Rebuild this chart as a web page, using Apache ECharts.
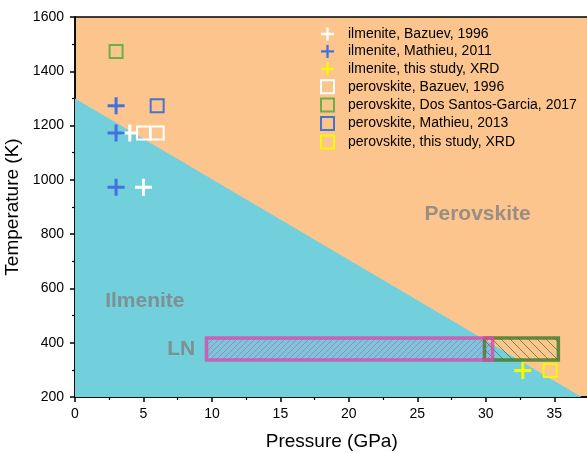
<!DOCTYPE html>
<html><head><meta charset="utf-8">
<script src="https://cdn.jsdelivr.net/npm/echarts@6/dist/echarts.min.js"></script>
<style>html,body{margin:0;padding:0;background:#fff}#c{width:587px;height:453px}</style>
</head><body><div id="c"></div>
<script>
// ---- data ----
const seriesNames = [
  'ilmenite, Bazuev, 1996',
  'ilmenite, Mathieu, 2011',
  'ilmenite, this study, XRD',
  'perovskite, Bazuev, 1996',
  'perovskite, Dos Santos-Garcia, 2017',
  'perovskite, Mathieu, 2013',
  'perovskite, this study, XRD'
];
const ilmBazuev = [[4, 1173], [5, 973]];
const ilmMathieu = [[3, 1273], [3, 1173], [3, 973]];
const ilmThisStudy = [[32.7, 298]];
const perBazuev = [[5, 1173], [6, 1173]];
const perDosSantos = [[3, 1473]];
const perMathieu = [[6, 1273]];
const perThisStudy = [[34.7, 298]];
// phase boundary (ilmenite region below the line)
const ilmeniteRegion = [[0, 200], [0, 1300], [37, 200]];
// hatched boxes
const lnBoxP = [9.6, 30.5], lnBoxT = [336, 417];
const perBoxP = [29.9, 35.3], perBoxT = [336, 417];
// region labels
const regionLabels = [
  {name: 'Perovskite', value: [29.4, 873]},
  {name: 'Ilmenite', value: [5.1, 552]},
  {name: 'LN', value: [7.75, 375]}
];
const xTicks = [0, 5, 10, 15, 20, 25, 30, 35];
const yTicks = [200, 400, 600, 800, 1000, 1200, 1400, 1600];

// ---- styles ----
const FONT = '"Liberation Sans", Arial, sans-serif';
const ORANGE = '#fdc58e', TEAL = '#72cfdc';
const WHITE = '#ffffff', BLUE = '#4472dc', YELLOW = '#f8f800', GREEN = '#6ab04a', BLUE2 = '#4a74cc';
const PLUS = 'path://M7,0H10V7H17V10H10V17H7V10H0V7H7Z';

function hatch(color, s, dir, lw, tint) {
  const c = document.createElement('canvas'); c.width = s; c.height = s;
  const g = c.getContext('2d');
  if (tint) { g.fillStyle = tint; g.fillRect(0, 0, s, s); }
  g.strokeStyle = color; g.lineWidth = lw; g.beginPath();
  if (dir > 0) {
    g.moveTo(-1, s + 1); g.lineTo(s + 1, -1);
    g.moveTo(-1, 1); g.lineTo(1, -1);
    g.moveTo(s - 1, s + 1); g.lineTo(s + 1, s - 1);
  } else {
    g.moveTo(-1, -1); g.lineTo(s + 1, s + 1);
    g.moveTo(s - 1, -1); g.lineTo(s + 1, 1);
    g.moveTo(-1, s - 1); g.lineTo(1, s + 1);
  }
  g.stroke(); return c;
}
const pinkPattern = {image: hatch('rgba(215,80,180,0.65)', 6, 1, 1, 'rgba(215,80,180,0.06)'), repeat: 'repeat'};
const greenPattern = {image: hatch('rgba(70,120,45,0.75)', 9, -1, 1, null), repeat: 'repeat'};

function boxSeries(P, T, fill, stroke, z) {
  return {
    type: 'custom', silent: true, z: z, data: [0],
    renderItem: function (params, api) {
      const a = api.coord([P[0], T[1]]), b = api.coord([P[1], T[0]]);
      return {type: 'rect', shape: {x: a[0], y: a[1], width: b[0] - a[0], height: b[1] - a[1]},
        style: {fill: fill, stroke: stroke, lineWidth: 3.5}};
    }
  };
}
function scatter(name, data, symbol, size, color, hollow) {
  return {
    name: name, type: 'scatter', data: data, symbol: symbol, symbolSize: size, z: 10,
    itemStyle: hollow ? {color: 'rgba(0,0,0,0)', borderColor: color, borderWidth: 2, opacity: 1}
                      : {color: color, opacity: 1}
  };
}

const chart = echarts.init(document.getElementById('c'), null, {renderer: 'canvas'});
const axisCommon = {
  axisLine: {show: true, onZero: false, lineStyle: {color: '#000', width: 1.5}},
  axisTick: {show: true, length: 5, lineStyle: {color: '#000', width: 1.5}},
  minorTick: {show: true, splitNumber: 2, length: 3, lineStyle: {color: '#000', width: 1.2}},
  splitLine: {show: false},
  nameLocation: 'middle',
  nameTextStyle: {fontSize: 19, color: '#000', fontFamily: FONT}
};
chart.setOption({
  animation: false,
  textStyle: {fontFamily: FONT},
  grid: {left: 75, top: 17, bottom: 56, right: -1.5, show: true, backgroundColor: ORANGE,
         borderColor: '#000', borderWidth: 1.5, containLabel: false, outerBoundsMode: 'none'},
  legend: {
    orient: 'vertical', left: 320, top: 27, padding: 0, itemWidth: 13, itemHeight: 13, itemGap: 3.4,
    data: seriesNames,
    textStyle: {fontSize: 14, color: '#000', fontFamily: FONT, padding: [0, 0, 0, 9]}
  },
  xAxis: Object.assign({}, axisCommon, {
    type: 'value', min: 0, max: 37.5, interval: 5, name: 'Pressure (GPa)', nameGap: 35,
    axisLabel: {fontSize: 14, color: '#000', margin: 10, showMaxLabel: false,
      formatter: v => xTicks.indexOf(v) >= 0 ? String(v) : ''}
  }),
  yAxis: Object.assign({}, axisCommon, {
    type: 'value', min: 200, max: 1600, interval: 200, name: 'Temperature (K)', nameGap: 47,
    axisLabel: {fontSize: 14, color: '#000', margin: 11,
      formatter: v => yTicks.indexOf(v) >= 0 ? String(v) : ''}
  }),
  series: [
    {
      type: 'custom', silent: true, z: 1, data: [0],
      renderItem: function (params, api) {
        return {type: 'polygon', shape: {points: ilmeniteRegion.map(p => api.coord(p))},
          style: {fill: TEAL}};
      }
    },
    boxSeries(perBoxP, perBoxT, greenPattern, 'rgba(70,125,45,0.85)', 2),
    boxSeries(lnBoxP, lnBoxT, pinkPattern, 'rgba(215,75,175,0.8)', 3),
    {
      type: 'scatter', silent: true, symbolSize: 0, z: 4, data: regionLabels,
      label: {show: true, position: 'inside', formatter: '{b}', fontSize: 21, fontWeight: 'bold',
        color: '#808080', fontFamily: FONT}
    },
    scatter(seriesNames[0], ilmBazuev, PLUS, 17, WHITE, false),
    scatter(seriesNames[1], ilmMathieu, PLUS, 17, BLUE, false),
    scatter(seriesNames[2], ilmThisStudy, PLUS, 17, YELLOW, false),
    scatter(seriesNames[3], perBazuev, 'rect', 13, WHITE, true),
    scatter(seriesNames[4], perDosSantos, 'rect', 13, GREEN, true),
    scatter(seriesNames[5], perMathieu, 'rect', 13, BLUE2, true),
    scatter(seriesNames[6], perThisStudy, 'rect', 13, YELLOW, true)
  ]
});
</script></body></html>
